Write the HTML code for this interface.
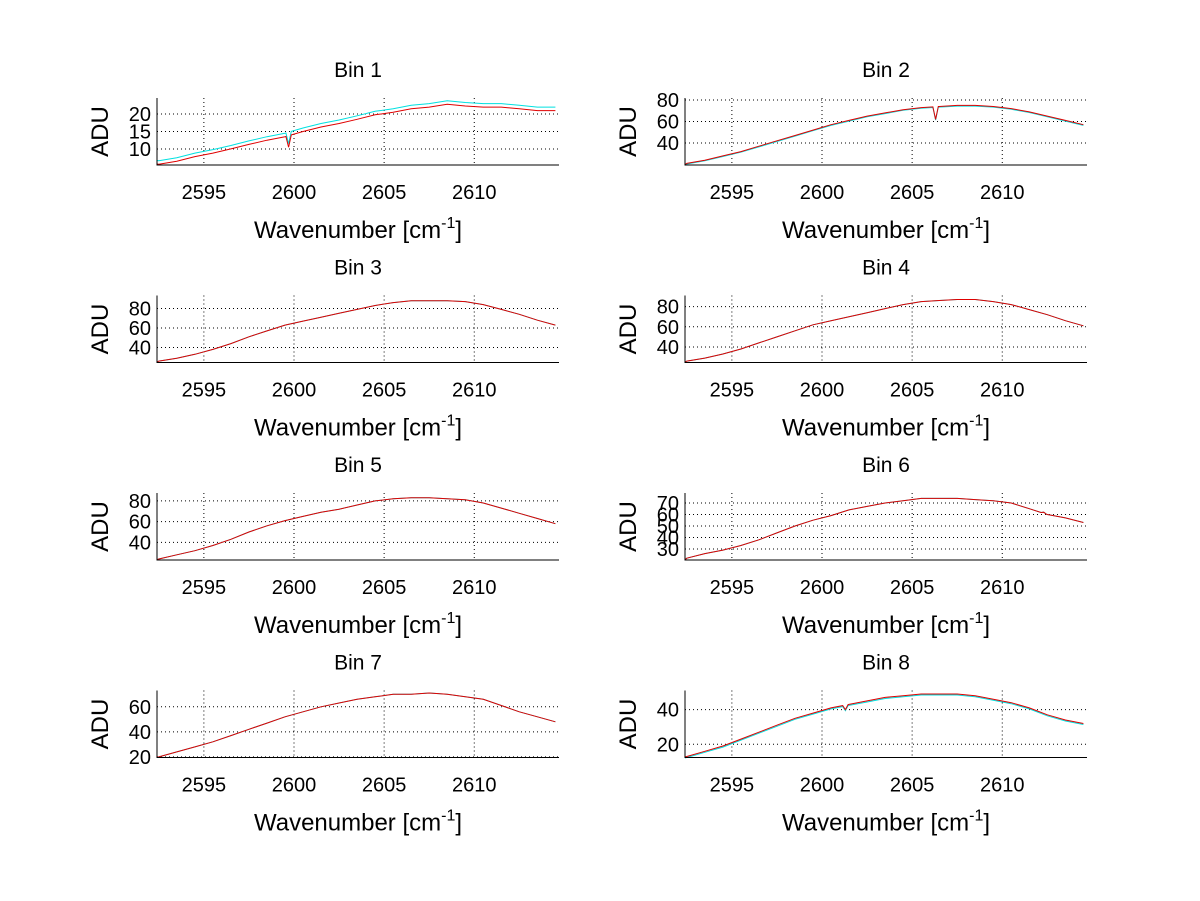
<!DOCTYPE html>
<html><head><meta charset="utf-8"><style>
html,body{margin:0;padding:0;background:#fff;}
svg{display:block;font-family:"Liberation Sans",sans-serif;}
</style></head><body>
<svg id="fig" width="1200" height="901" viewBox="0 0 1200 901" xmlns="http://www.w3.org/2000/svg"></svg>
<script>
const wavenumbers=[2592.5,2593.5,2594.5,2595.5,2596.5,2597.5,2598.5,2599.5,2600.5,2601.5,2602.5,2603.5,2604.5,2605.5,2606.5,2607.5,2608.5,2609.5,2610.5,2611.5,2612.5,2613.5,2614.5];
const binTitles=["Bin 1","Bin 2","Bin 3","Bin 4","Bin 5","Bin 6","Bin 7","Bin 8"];
const bin1=[5.6,6.5,7.8,8.8,10,11.3,12.5,13.5,15,16.3,17.3,18.5,19.8,20.5,21.5,22,22.8,22.3,22,22,21.5,21,21];
const bin2=[21,24,28,32,37,42,47,52,57,61,65,68,71,73,74,75,75,74,72,69,65,61,57];
const bin3=[26,29,33,38,44,51,57,63,67,71,75,79,83,86,88,88,88,87,84,79,74,68,63];
const bin4=[26,29,33,38,44,50,56,62,66,70,74,78,82,85,86,87,87,85,82,77,72,66,61];
const bin5=[24,28,32,37,43,50,56,61,65,69,72,76,80,82,83,83,82,81,78,73,68,63,58];
const bin6=[22,26,29,33,38,44,50,55,59,64,67,70,72,74,74,74,73,72,70,65,60,57,53];
const bin7=[20,24,28,32,37,42,47,52,56,60,63,66,68,70,70,71,70,68,66,61,56,52,48];
const bin8=[13,16,19,23,27,31,35,38,41,43,45,47,48,49,49,49,48,46,44,41,37,34,32];
const dipX=[2599.7,2606.3,null,null,null,2612.3,null,2601.3];
const dipY=[10.5,62,null,null,null,62,null,40];
const cyanOffset=[1.0,-0.6,0,0,0,0,0,-0.6];
const yMin=[5.4,19.5,24.6,24.6,23,20.4,19.5,12.4];
const yMax=[24.6,81.9,93.3,91,87.6,78.7,73,51];
const yTicks=[[10,15,20],[40,60,80],[40,60,80],[40,60,80],[40,60,80],[30,40,50,60,70],[20,40,60],[20,40]];
const xTicks=[2595,2600,2605,2610];
const xMin=2592.4,xMax=2614.7;

const NS="http://www.w3.org/2000/svg";
const svg=document.getElementById('fig');
const series=[bin1,bin2,bin3,bin4,bin5,bin6,bin7,bin8];
function mk(tag,attrs,parent){const e=document.createElementNS(NS,tag);for(const k in attrs)e.setAttribute(k,attrs[k]);(parent||svg).appendChild(e);return e;}
function interp(xs,ys,x){
  if(x<=xs[0])return ys[0]; if(x>=xs[xs.length-1])return ys[ys.length-1];
  for(let i=0;i<xs.length-1;i++){if(x>=xs[i]&&x<=xs[i+1]){const f=(x-xs[i])/(xs[i+1]-xs[i]);return ys[i]+f*(ys[i+1]-ys[i]);}}
}

for(let b=0;b<8;b++){
  const col=b%2,row=Math.floor(b/2);
  const L=col?685:157,R=col?1087:559,T=98+row*197.5,B=T+67;
  const g=mk('g',{});
  
  
  const sx=v=>L+(v-xMin)/(xMax-xMin)*(R-L);
  const sy=v=>B-(v-yMin[b])/(yMax[b]-yMin[b])*(B-T);
  xTicks.forEach(t=>{
    const l=mk('line',{x1:sx(t),x2:sx(t),y1:T,y2:B,stroke:'#000','stroke-width':1,'stroke-dasharray':'1,3'},g);
    
    
    const tx=mk('text',{x:sx(t),y:B+34,'text-anchor':'middle','font-size':'20'},g);
    tx.textContent=t;
    
    
  });
  yTicks[b].forEach(t=>{
    const l=mk('line',{x1:L,x2:R,y1:sy(t),y2:sy(t),stroke:'#000','stroke-width':1,'stroke-dasharray':'1,3'},g);
    
    
    const tx=mk('text',{x:L-6,y:sy(t)+7,'text-anchor':'end','font-size':'20'},g);
    tx.textContent=t;
    
    
  });
  const pts=[];
  wavenumbers.forEach((x,i)=>pts.push([x,series[b][i]]));
  if(dipX[b]!==null){
    const d=dipX[b];
    pts.push([d-0.15,interp(wavenumbers,series[b],d-0.15)]);
    pts.push([d,dipY[b]]);
    pts.push([d+0.15,interp(wavenumbers,series[b],d+0.15)]);
  }
  pts.sort((a,c)=>a[0]-c[0]);
  const all=[[xMin,yMin[b]+0.3]].concat(pts);
  const cy=all.map(p=>sx(p[0]).toFixed(1)+','+sy(p[1]+cyanOffset[b]).toFixed(1)).join(' ');
  const rd=all.map(p=>sx(p[0]).toFixed(1)+','+sy(p[1]).toFixed(1)).join(' ');
  const c=mk('polyline',{points:cy,fill:'none',stroke:'#00e0e0','stroke-width':1},g);
  
  
  const r=mk('polyline',{points:rd,fill:'none',stroke:'#e00000','stroke-width':1},g);
  
  
  const ax=mk('path',{d:`M${L},${T} L${L},${B} L${R},${B}`,fill:'none',stroke:'#000','stroke-width':1},g);
  
  
  const ti=mk('text',{x:(L+R)/2,y:T-21,'text-anchor':'middle','font-size':'21'},g);
  ti.textContent=binTitles[b];
  
  
  const yl=mk('text',{x:0,y:0,'text-anchor':'middle','font-size':'24',transform:`translate(${L-49},${(T+B)/2}) rotate(-90)`},g);
  yl.textContent='ADU';
  
  
  const xl=mk('text',{x:(L+R)/2,y:B+73,'text-anchor':'middle','font-size':'24'},g);
  xl.innerHTML='Wavenumber [cm<tspan font-size="16" dy="-10">-1</tspan><tspan dy="10">]</tspan>';
  
  
}
</script>
</body></html>
